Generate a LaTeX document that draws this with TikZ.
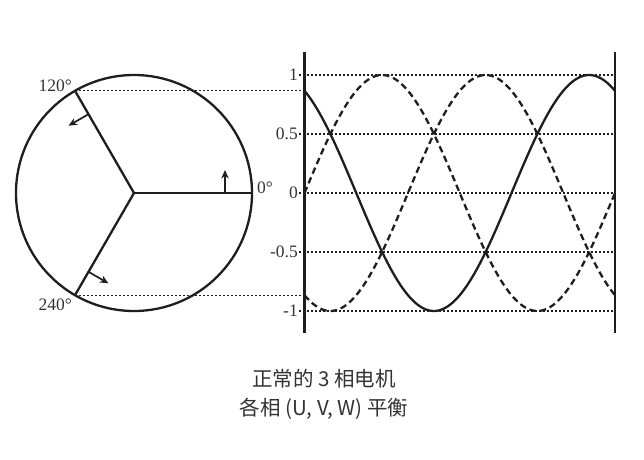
\documentclass[tikz,border=0pt]{standalone}
\usepackage{fontspec}
\setmainfont{Liberation Serif}
\newfontfamily\cjk{Noto Sans CJK SC}
\usepackage{tikz}
\usetikzlibrary{arrows.meta, positioning}

\definecolor{ink}{HTML}{1E1E1E}
\definecolor{txt}{HTML}{333333}

\begin{document}
\begin{tikzpicture}[x=1pt, y=1pt,
    heavy/.style={ink, line width=2.3pt},
    axisline/.style={ink, line width=2.6pt},
    guide/.style={ink, line width=1.1pt, dash pattern=on 2pt off 2pt},
    phasedash/.style={heavy, dash pattern=on 6.5pt off 4pt},
    push/.style={ink, line width=1.7pt, -{Stealth[length=8.5pt, width=7.5pt]}},
    lbl/.style={txt, inner sep=0pt, font=\fontsize{17.5}{20}\selectfont},
    captext/.style={txt, inner sep=0pt, font=\cjk\fontsize{20.5}{24}\selectfont}]
    \useasboundingbox (0,0) rectangle (644,459);

    % Draw the stator circle and the three phase spokes
    \coordinate (ctr) at (134,266);
    \draw[heavy] (ctr) circle[radius=118pt];
    \foreach \a in {0,120,240} {
        \path (ctr) ++(\a:118) coordinate (p\a);
        \draw[heavy] (ctr) -- (p\a);
        % Arrow showing the direction of rotation
        \path (ctr) ++(\a:91) coordinate (m\a);
        \draw[push] (m\a) -- ++({\a+90}:23);
    }

    % Angle labels
    \node[lbl, anchor=base west] (l0) at (257,266) {0°};
    \node[lbl, anchor=base east] (l120) at (72,367.5) {120°};
    \node[lbl, anchor=base east] (l240) at (72,149) {240°};

    % Draw the two axes of the wave plot
    \draw[axisline] (304.5,126) coordinate (lb) -- (304.5,406.5) coordinate (lt);
    \draw[axisline] (615,126) coordinate (rb) -- (615,406.5) coordinate (rt);

    % Levels of the plot
    \foreach \v/\t/\k in {1/1/a, 0.5/0.5/b, 0/0/c, -0.5/-0.5/d, -1/-1/e} {
        \coordinate (g\k) at (299,{266+118*\v});
        \node[lbl, anchor=east, xshift=-1pt] (n\k) at (g\k) {\t};
        \draw[guide] (g\k) -- (g\k -| rb);
    }

    % Projections from the spokes onto the plot
    \draw[guide] (p120) -- (p120 -| lb);
    \draw[guide] (p240) -- (p240 -| lb);

    % The three phase waves
    \draw[phasedash] plot[domain=0:360, samples=120, smooth]
        ({304.5+310.5*(\x/360)}, {266+118*sin(\x)});
    \draw[heavy] plot[domain=0:360, samples=120, smooth]
        ({304.5+310.5*(\x/360)}, {266+118*sin(\x+120)});
    \draw[phasedash] plot[domain=0:360, samples=120, smooth]
        ({304.5+310.5*(\x/360)}, {266+118*sin(\x+240)});

    % Caption
    \node[captext] (t1) at (324,80) {正常的 3 相电机};
    \node[captext, below=9.5pt of t1] (t2) {各相 (U, V, W) 平衡};
\end{tikzpicture}
\end{document}
